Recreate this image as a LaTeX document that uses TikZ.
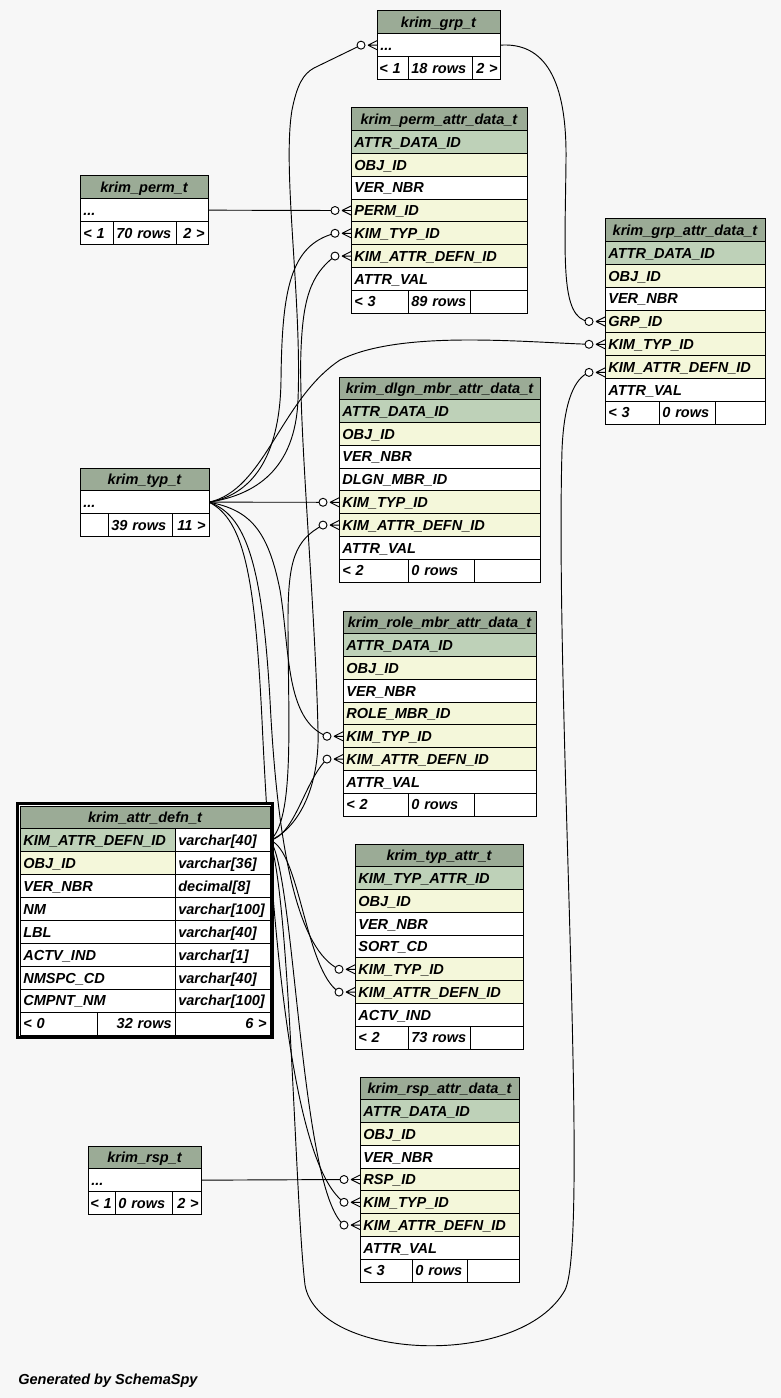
\documentclass[tikz,border=0pt]{standalone}
\usepackage{fontspec}
\newfontfamily\erfont{Liberation Sans}
\usetikzlibrary{backgrounds}
\definecolor{sspage}{HTML}{F7F7F7}
\definecolor{sshead}{HTML}{9BAB96}
\definecolor{sspk}{HTML}{BED1B8}
\definecolor{ssfk}{HTML}{F4F7DA}
\tikzset{
  tbl/.style={draw=black,fill=white,line width=.75pt,anchor=north west,outer sep=0pt,inner xsep=2.5pt,inner ysep=0pt,minimum height=17.08pt,text height=7.9pt,text depth=0pt,align=left,font=\erfont\bfseries\itshape\fontsize{10.9}{12}\selectfont},
  head/.style={tbl,fill=sshead,align=center},
  pk/.style={tbl,fill=sspk},
  fk/.style={tbl,fill=ssfk},
  col/.style={tbl},
  rgt/.style={tbl,align=right},
  rel/.style={draw=black,line width=.7pt},
  crowodot/.pic={
    \draw[line width=.7pt] (-9,0) -- (0,-4.5) (-9,0) -- (0,0) (-9,0) -- (0,4.5);
    \draw[line width=.7pt,fill=white] (-16,0) circle[radius=3pt];
    \coordinate (-end) at (-16,0);
  },
}
\begin{document}
\begin{tikzpicture}[x=.75pt,y=-.75pt]
  \useasboundingbox (0,0) rectangle (781,1398);
  % krim_grp_t
  \node[head,text width=87.25pt] (grp) at (377,11) {krim\_grp\_t};
  \node[col,text width=87.25pt] (grp-1) at (377,33.78) {...};
  \node[tbl,text width=19.75pt,inner xsep=1.75pt] (grp-f1) at (377,56.56) {<~1};
  \node[tbl,text width=43pt] (grp-f2) at (408,56.56) {18 rows};
  \node[rgt,text width=17.5pt,inner xsep=1.75pt] (grp-f3) at (472,56.56) {2~>};
  % krim_perm_attr_data_t
  \node[head,text width=127pt] (pad) at (351,108) {krim\_perm\_attr\_data\_t};
  \foreach \c/\k [count=\i] in {ATTR\_DATA\_ID/pk,OBJ\_ID/fk,VER\_NBR/col,PERM\_ID/fk,KIM\_TYP\_ID/fk,KIM\_ATTR\_DEFN\_ID/fk,ATTR\_VAL/col}
    \node[\k,text width=127pt] (pad-\i) at (351,{108+22.78*\i}) {\c};
  \node[tbl,text width=37.75pt] (pad-f1) at (351,290.24) {<~3};
  \node[tbl,text width=41.5pt] (pad-f2) at (408,290.24) {89 rows};
  \node[tbl,text width=37.75pt] (pad-f3) at (470,290.24) {};
  % krim_grp_attr_data_t
  \node[head,text width=115pt] (gad) at (605,219) {krim\_grp\_attr\_data\_t};
  \foreach \c/\k [count=\i] in {ATTR\_DATA\_ID/pk,OBJ\_ID/fk,VER\_NBR/col,GRP\_ID/fk,KIM\_TYP\_ID/fk,KIM\_ATTR\_DEFN\_ID/fk,ATTR\_VAL/col}
    \node[\k,text width=115pt] (gad-\i) at (605,{219+22.78*\i}) {\c};
  \node[tbl,text width=35.5pt] (gad-f1) at (605,401.24) {<~3};
  \node[tbl,text width=37pt] (gad-f2) at (659,401.24) {0 rows};
  \node[tbl,text width=32.5pt] (gad-f3) at (715,401.24) {};
  % krim_perm_t
  \node[head,text width=91pt] (perm) at (80,176) {krim\_perm\_t};
  \node[col,text width=91pt] (perm-1) at (80,198.78) {...};
  \node[tbl,text width=19.75pt] (perm-f1) at (80,221.56) {<~1};
  \node[tbl,text width=42.25pt] (perm-f2) at (113,221.56) {70 rows};
  \node[rgt,text width=19pt] (perm-f3) at (176,221.56) {2~>};
  % krim_dlgn_mbr_attr_data_t
  \node[head,text width=145.75pt] (dad) at (339,377) {krim\_dlgn\_mbr\_attr\_data\_t};
  \foreach \c/\k [count=\i] in {ATTR\_DATA\_ID/pk,OBJ\_ID/fk,VER\_NBR/col,DLGN\_MBR\_ID/col,KIM\_TYP\_ID/fk,KIM\_ATTR\_DEFN\_ID/fk,ATTR\_VAL/col}
    \node[\k,text width=145.75pt] (dad-\i) at (339,{377+22.78*\i}) {\c};
  \node[tbl,text width=46.75pt] (dad-f1) at (339,559.24) {<~2};
  \node[tbl,text width=44.5pt] (dad-f2) at (408,559.24) {0 rows};
  \node[tbl,text width=44.5pt] (dad-f3) at (474,559.24) {};
  % krim_typ_t
  \node[head,text width=91.75pt] (typ) at (80,468) {krim\_typ\_t};
  \node[col,text width=91.75pt] (typ-1) at (80,490.78) {...};
  \node[tbl,text width=16pt] (typ-f1) at (80,513.56) {};
  \node[tbl,text width=43pt] (typ-f2) at (108,513.56) {39 rows};
  \node[rgt,text width=22.75pt] (typ-f3) at (172,513.56) {11~>};
  % krim_role_mbr_attr_data_t
  \node[head,text width=139.75pt] (rad) at (343,611) {krim\_role\_mbr\_attr\_data\_t};
  \foreach \c/\k [count=\i] in {ATTR\_DATA\_ID/pk,OBJ\_ID/fk,VER\_NBR/col,ROLE\_MBR\_ID/fk,KIM\_TYP\_ID/fk,KIM\_ATTR\_DEFN\_ID/fk,ATTR\_VAL/col}
    \node[\k,text width=139.75pt] (rad-\i) at (343,{611+22.78*\i}) {\c};
  \node[tbl,text width=43.75pt] (rad-f1) at (343,793.24) {<~2};
  \node[tbl,text width=44.5pt] (rad-f2) at (408,793.24) {0 rows};
  \node[tbl,text width=41.5pt] (rad-f3) at (474,793.24) {};
  % krim_attr_defn_t
  \draw[line width=2.25pt,fill=white] (17.5,803.5) rectangle (272.5,1037.5);
  \node[head,text width=182.5pt,minimum height=17.18pt] (adf) at (20,806) {krim\_attr\_defn\_t};
  \foreach \c/\d/\k [count=\i] in {KIM\_ATTR\_DEFN\_ID/varchar[40]/pk,OBJ\_ID/varchar[36]/fk,VER\_NBR/decimal[8]/col,NM/varchar[100]/col,LBL/varchar[40]/col,ACTV\_IND/varchar[1]/col,NMSPC\_CD/varchar[40]/col,CMPNT\_NM/varchar[100]/col}{
    \node[\k,text width=111.25pt,minimum height=17.18pt] (adf-\i) at (20,{806+22.9*\i}) {\c};
    \node[col,text width=66.25pt,minimum height=17.18pt] (adf-\i-t) at (175,{806+22.9*\i}) {\d};
  }
  \node[tbl,text width=52.75pt,minimum height=17.18pt] (adf-f1) at (20,1012.1) {<~0};
  \node[rgt,text width=53.5pt,minimum height=17.18pt] (adf-f2) at (97,1012.1) {32 rows};
  \node[rgt,text width=66.25pt,minimum height=17.18pt] (adf-f3) at (175,1012.1) {6~>};
  % krim_typ_attr_t
  \node[head,text width=121pt] (tat) at (355,844) {krim\_typ\_attr\_t};
  \foreach \c/\k [count=\i] in {KIM\_TYP\_ATTR\_ID/pk,OBJ\_ID/fk,VER\_NBR/col,SORT\_CD/col,KIM\_TYP\_ID/fk,KIM\_ATTR\_DEFN\_ID/fk,ACTV\_IND/col}
    \node[\k,text width=121pt] (tat-\i) at (355,{844+22.78*\i}) {\c};
  \node[tbl,text width=34.75pt] (tat-f1) at (355,1026.24) {<~2};
  \node[tbl,text width=41.5pt] (tat-f2) at (408,1026.24) {73 rows};
  \node[tbl,text width=34.75pt] (tat-f3) at (470,1026.24) {};
  % krim_rsp_attr_data_t
  \node[head,text width=114.25pt] (sad) at (360,1077) {krim\_rsp\_attr\_data\_t};
  \foreach \c/\k [count=\i] in {ATTR\_DATA\_ID/pk,OBJ\_ID/fk,VER\_NBR/col,RSP\_ID/fk,KIM\_TYP\_ID/fk,KIM\_ATTR\_DEFN\_ID/fk,ATTR\_VAL/col}
    \node[\k,text width=114.25pt] (sad-\i) at (360,{1077+22.78*\i}) {\c};
  \node[tbl,text width=34pt] (sad-f1) at (360,1259.24) {<~3};
  \node[tbl,text width=36.25pt] (sad-f2) at (412,1259.24) {0 rows};
  \node[tbl,text width=34pt] (sad-f3) at (467,1259.24) {};
  % krim_rsp_t
  \node[head,text width=79.75pt] (rsp) at (88,1146) {krim\_rsp\_t};
  \node[col,text width=79.75pt] (rsp-1) at (88,1168.78) {...};
  \node[tbl,text width=16.75pt,inner xsep=1.75pt] (rsp-f1) at (88,1191.56) {<~1};
  \node[tbl,text width=37.75pt] (rsp-f2) at (115,1191.56) {0 rows};
  \node[rgt,text width=18.25pt,inner xsep=1.75pt] (rsp-f3) at (172,1191.56) {2~>};
  % crow's feet on the child columns
  \pic (grpC) at (grp-1.west) {crowodot};
  \pic (padP) at (pad-4.west) {crowodot};
  \pic (padT) at (pad-5.west) {crowodot};
  \pic (padA) at (pad-6.west) {crowodot};
  \pic (gadG) at (gad-4.west) {crowodot};
  \pic (gadT) at (gad-5.west) {crowodot};
  \pic (gadA) at ([yshift=-4pt]gad-6.west) {crowodot};
  \pic (dadT) at (dad-5.west) {crowodot};
  \pic (dadA) at (dad-6.west) {crowodot};
  \pic (radT) at (rad-5.west) {crowodot};
  \pic (radA) at (rad-6.west) {crowodot};
  \pic (tatT) at (tat-5.west) {crowodot};
  \pic (tatA) at (tat-6.west) {crowodot};
  \pic (sadR) at (sad-4.west) {crowodot};
  \pic (sadT) at (sad-5.west) {crowodot};
  \pic (sadA) at (sad-6.west) {crowodot};
  \node[anchor=base west,inner sep=0pt,font=\erfont\bfseries\itshape\fontsize{10.9}{12}\selectfont] (gen) at (18,1384) {Generated by SchemaSpy};
  \begin{scope}[on background layer]
    \fill[sspage] (0,0) rectangle (781,1398);
    % relationships
    \draw[rel] (grp-1.east) .. controls (545,42) and (567,80) .. (566,160) .. controls (565,260) and (560,318) .. (gadG-end);
    \draw[rel] (perm-1.east) -- (padP-end);
    \draw[rel] (rsp-1.east) -- (sadR-end);
    \draw[rel] (typ-1.east) .. controls (255,495) and (295,470) .. (298,400) .. controls (302,300) and (282,170) .. (292,110) .. controls (297,85) and (303,74) .. (314,68) -- (grpC-end);
    \draw[rel] (typ-1.east) .. controls (250,495) and (280,460) .. (281,380) .. controls (282,290) and (290,245) .. (padT-end);
    \draw[rel] (typ-1.east) .. controls (265,490) and (280,400) .. (340,360) .. controls (400,330) and (520,342) .. (gadT-end);
    \draw[rel] (typ-1.east) -- (dadT-end);
    \draw[rel] (typ-1.east) .. controls (250,510) and (268,530) .. (280,590) .. controls (290,650) and (285,720) .. (radT-end);
    \draw[rel] (typ-1.east) .. controls (245,515) and (262,560) .. (270,700) .. controls (278,860) and (300,950) .. (tatT-end);
    \draw[rel] (typ-1.east) .. controls (245,520) and (255,580) .. (262,720) .. controls (275,1000) and (300,1170) .. (sadT-end);
    \draw[rel] (adf-1-t.east) .. controls (296,830) and (320,790) .. (318,730) .. controls (315,600) and (298,420) .. (301,350) .. controls (303,300) and (310,275) .. (padA-end);
    \draw[rel] (adf-1-t.east) .. controls (295,820) and (288,720) .. (288,620) .. controls (288,560) and (295,540) .. (dadA-end);
    \draw[rel] (adf-1-t.east) .. controls (295,835) and (305,780) .. (radA-end);
    \draw[rel] (adf-1-t.east) .. controls (300,850) and (305,970) .. (tatA-end);
    \draw[rel] (adf-1-t.east) .. controls (295,870) and (300,1190) .. (sadA-end);
    \draw[rel] (adf-1-t.east) .. controls (290,900) and (295,1200) .. (305,1285) .. controls (318,1360) and (520,1370) .. (565,1290) .. controls (590,1240) and (555,700) .. (562,450) .. controls (564,400) and (575,378) .. (gadA-end);
  \end{scope}
\end{tikzpicture}
\end{document}
